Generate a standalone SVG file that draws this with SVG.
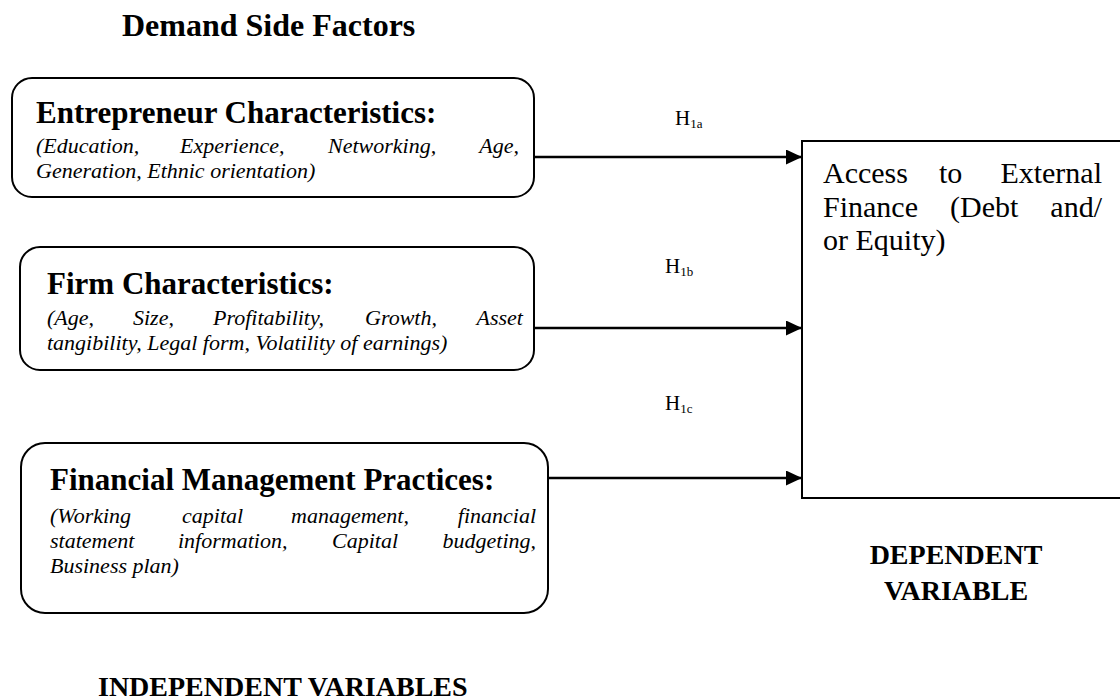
<svg xmlns="http://www.w3.org/2000/svg" width="1120" height="700" viewBox="0 0 1120 700">
<defs>
<style>
.t{font-family:"Liberation Serif","Times New Roman",serif;fill:#000}
.b{font-weight:bold}
.ttl{font-size:31px;font-weight:bold}
.it{font-size:22px;font-style:italic}
.h{font-size:21px}
.sub{font-size:13px}
.rt{font-size:30px}
.box{fill:#fff;stroke:#000;stroke-width:2}
.con{stroke:#000;stroke-width:2.5;fill:none}
</style>
<marker id="ah" viewBox="0 0 16 15" refX="16" refY="7.5" markerWidth="16" markerHeight="15" markerUnits="userSpaceOnUse" orient="auto"><path d="M0,0 L16,7.5 L0,15 z" fill="#000"/></marker>
</defs>
<rect width="1120" height="700" fill="#fff"/>
<text class="t b" x="122" y="36" font-size="32">Demand Side Factors</text>
<g id="connectors">
<line class="con" x1="534" y1="157" x2="802" y2="157" marker-end="url(#ah)"/>
<line class="con" x1="534" y1="328" x2="802" y2="328" marker-end="url(#ah)"/>
<line class="con" x1="548" y1="478" x2="802" y2="478" marker-end="url(#ah)"/>
<text class="t h" x="675" y="125">H<tspan class="sub" dy="3">1a</tspan></text>
<text class="t h" x="665" y="273">H<tspan class="sub" dy="3">1b</tspan></text>
<text class="t h" x="665" y="410">H<tspan class="sub" dy="3">1c</tspan></text>
</g>
<g id="entrepreneur">
<rect class="box" x="12" y="78" width="522" height="119" rx="20"/>
<text class="t ttl" x="36" y="123">Entrepreneur Characteristics:</text>
<text class="t it" y="153"><tspan x="36">(Education,</tspan><tspan x="180">Experience,</tspan><tspan x="328">Networking,</tspan><tspan x="519" text-anchor="end">Age,</tspan></text>
<text class="t it" x="36" y="178">Generation, Ethnic orientation)</text>
</g>
<g id="firm">
<rect class="box" x="20" y="247" width="514" height="123" rx="20"/>
<text class="t ttl" x="47" y="294">Firm Characteristics:</text>
<text class="t it" y="325"><tspan x="47">(Age,</tspan><tspan x="133">Size,</tspan><tspan x="213">Profitability,</tspan><tspan x="365">Growth,</tspan><tspan x="523" text-anchor="end">Asset</tspan></text>
<text class="t it" x="47" y="350">tangibility, Legal form, Volatility of earnings)</text>
</g>
<g id="fmp">
<rect class="box" x="21" y="443" width="527" height="170" rx="24"/>
<text class="t ttl" x="50" y="490">Financial Management Practices:</text>
<text class="t it" y="523"><tspan x="50">(Working</tspan><tspan x="182">capital</tspan><tspan x="291">management,</tspan><tspan x="536" text-anchor="end">financial</tspan></text>
<text class="t it" y="548"><tspan x="50">statement</tspan><tspan x="178">information,</tspan><tspan x="332">Capital</tspan><tspan x="536" text-anchor="end">budgeting,</tspan></text>
<text class="t it" x="50" y="573">Business plan)</text>
</g>
<g id="access">
<rect x="802" y="141" width="330" height="357" fill="#fff" stroke="#000" stroke-width="2"/>
<text class="t rt" y="183"><tspan x="823">Access</tspan><tspan x="939">to</tspan><tspan x="1102" text-anchor="end">External</tspan></text>
<text class="t rt" y="217"><tspan x="823">Finance</tspan><tspan x="950">(Debt</tspan><tspan x="1102" text-anchor="end">and/</tspan></text>
<text class="t rt" x="823" y="250">or Equity)</text>
</g>
<g id="labels">
<text class="t b" x="956" y="564" font-size="28" text-anchor="middle">DEPENDENT</text>
<text class="t b" x="956" y="600" font-size="28" text-anchor="middle">VARIABLE</text>
<text class="t b" x="98" y="696" font-size="28">INDEPENDENT VARIABLES</text>
</g>
</svg>
